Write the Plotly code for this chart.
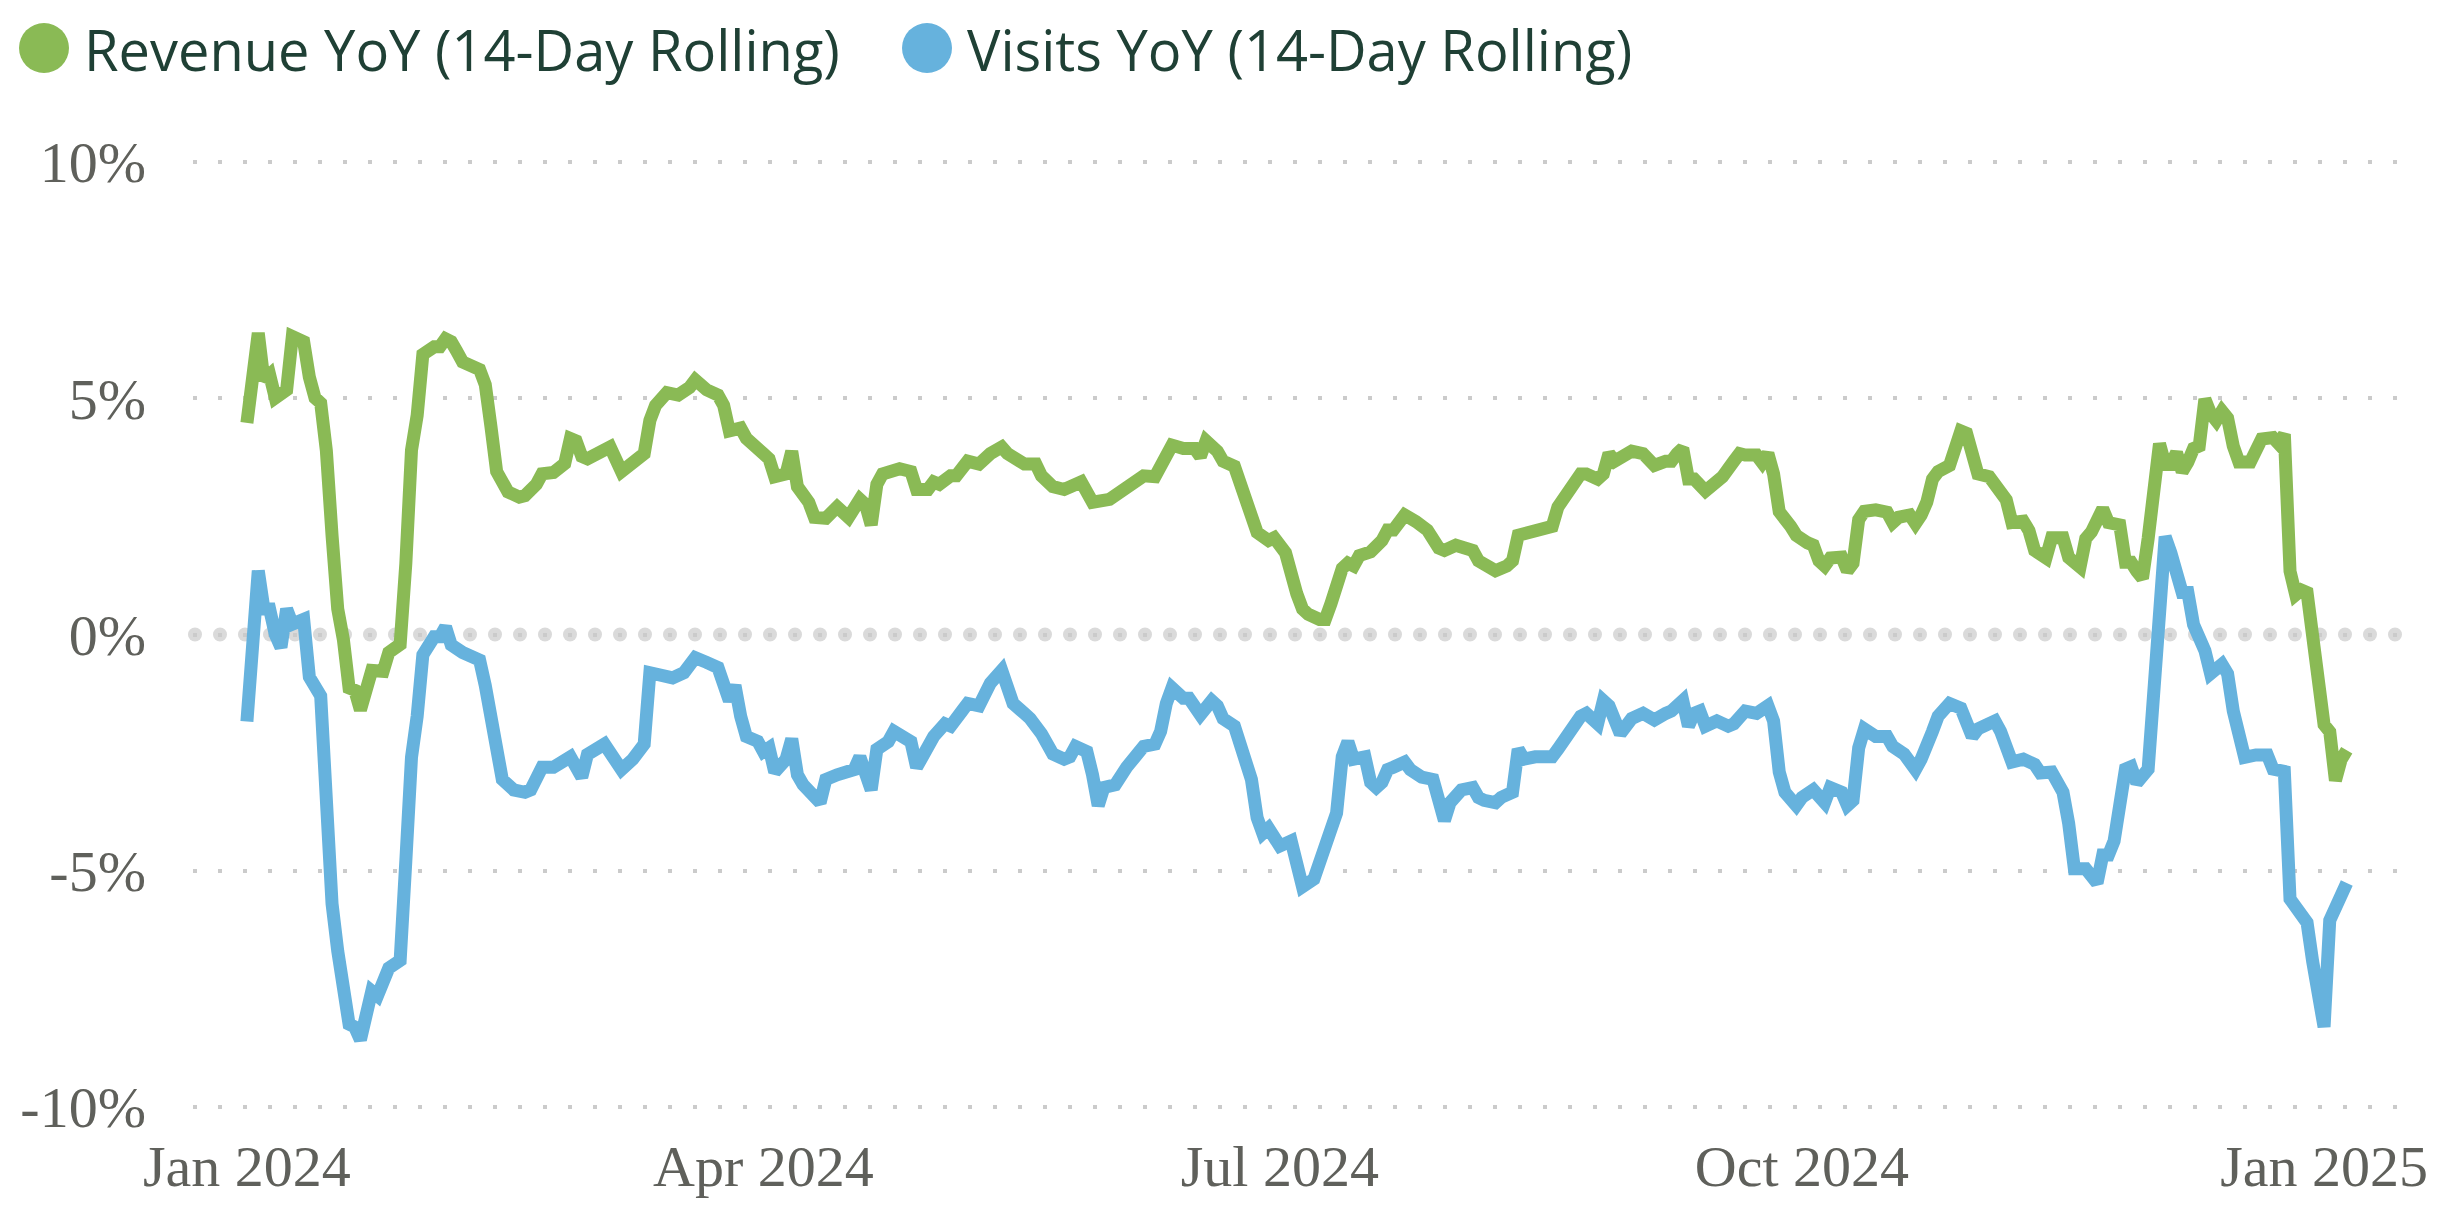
import plotly.graph_objects as go
import pandas as pd

START = "2024-01-01"

series_names = ["Revenue YoY (14-Day Rolling)", "Visits YoY (14-Day Rolling)"]

# day offsets from 2024-01-01 and values (%)
rev_day = [0, 2, 3, 4, 5, 7, 8, 10, 11, 12, 13, 14, 15, 16, 17, 18, 19, 20, 22, 24, 25, 27, 28, 29, 30, 31,
           33, 34, 35, 36, 37, 38, 41, 42, 43, 44, 46, 48, 49, 51, 52, 54, 56, 57, 58, 59, 60, 62, 64, 66,
           68, 70, 71, 72, 74, 76, 78, 79, 81, 83, 84, 85, 87, 88, 91, 92, 93, 95, 96, 97, 99, 100, 102,
           104, 106, 108, 109, 110, 111, 112, 115, 117, 118, 120, 121, 122, 124, 125, 127, 129, 131, 133,
           134, 137, 139, 140, 142, 144, 147, 148, 149, 152, 154, 156, 158, 160, 161, 163, 165, 167, 168,
           169, 171, 172, 174, 176, 177, 178, 180, 181, 183, 184, 185, 186, 187, 189, 190, 191, 192, 193,
           194, 195, 196, 198, 200, 201, 202, 204, 206, 207, 208, 210, 211, 213, 215, 216, 217, 219, 220,
           222, 223, 224, 226, 227, 230, 231, 233, 235, 236, 238, 239, 240, 241, 243, 244, 246, 248, 250,
           251, 252, 253, 254, 255, 257, 258, 260, 262, 263, 264, 266, 267, 268, 269, 270, 272, 273, 275,
           276, 277, 278, 279, 281, 282, 283, 284, 285, 287, 289, 290, 291, 293, 294, 295, 296, 297, 298,
           300, 301, 302, 303, 304, 305, 307, 308, 309, 310, 311, 313, 314, 315, 317, 318, 320, 321, 323,
           324, 325, 327, 328, 330, 331, 332, 333, 334, 335, 336, 337, 338, 339, 340, 341, 342, 343, 344,
           345, 346, 347, 348, 349, 350, 351, 353, 354, 355, 357, 358, 359, 360, 361, 362, 363, 364, 365,
           366, 367, 368, 369, 370]
rev_val = [4.48, 6.38, 5.39, 5.50, 5.01, 5.18, 6.31, 6.20, 5.45, 5.01, 4.90, 3.89, 2.10, 0.54, -0.11,
           -1.13, -1.18, -1.60, -0.76, -0.78, -0.38, -0.21, 1.50, 3.90, 4.64, 5.93, 6.09, 6.09, 6.26,
           6.20, 5.99, 5.77, 5.61, 5.29, 4.40, 3.45, 3.02, 2.91, 2.94, 3.18, 3.40, 3.43, 3.62, 4.15, 4.10,
           3.77, 3.72, 3.88, 3.97, 3.45, 3.67, 3.83, 4.53, 4.85, 5.12, 5.07, 5.23, 5.39, 5.18, 5.07, 4.85,
           4.31, 4.37, 4.15, 3.83, 3.72, 3.34, 3.40, 3.88, 3.13, 2.80, 2.48, 2.46, 2.70, 2.48, 2.86, 2.75,
           2.32, 3.18, 3.40, 3.51, 3.45, 3.07, 3.07, 3.23, 3.18, 3.36, 3.36, 3.67, 3.61, 3.83, 3.97, 3.83,
           3.61, 3.61, 3.36, 3.13, 3.07, 3.23, 3.07, 2.80, 2.86, 3.02, 3.18, 3.36, 3.34, 3.61, 4.01, 3.94,
           3.94, 3.77, 4.10, 3.88, 3.67, 3.56, 2.91, 2.59, 2.16, 1.99, 2.05, 1.73, 1.19, 0.86, 0.54, 0.43,
           0.32, 0.32, 0.65, 0.97, 1.40, 1.51, 1.45, 1.67, 1.75, 1.99, 2.21, 2.21, 2.53, 2.39, 2.29, 2.21,
           1.83, 1.78, 1.89, 1.78, 1.78, 1.56, 1.40, 1.35, 1.45, 1.56, 2.10, 2.16, 2.21, 2.29, 2.70, 3.07,
           3.40, 3.40, 3.29, 3.40, 3.83, 3.67, 3.83, 3.88, 3.83, 3.58, 3.67, 3.67, 3.83, 3.94, 3.29, 3.29,
           3.04, 3.13, 3.34, 3.67, 3.83, 3.80, 3.80, 3.64, 3.83, 3.40, 2.60, 2.29, 2.10, 1.94, 1.89, 1.56,
           1.45, 1.62, 1.64, 1.35, 1.51, 2.43, 2.61, 2.64, 2.59, 2.37, 2.48, 2.53, 2.35, 2.53, 2.80, 3.29,
           3.45, 3.58, 4.08, 4.31, 4.26, 3.72, 3.40, 3.34, 3.18, 3.05, 2.85, 2.37, 2.40, 2.20, 1.78, 1.62,
           2.05, 2.05, 1.63, 1.43, 2.03, 2.17, 2.66, 2.37, 2.32, 1.53, 1.53, 1.34, 1.19, 2.03, 3.30, 4.04,
           3.60, 3.60, 3.85, 3.45, 3.65, 3.94, 3.99, 4.98, 4.68, 4.53, 4.73, 4.58, 3.99, 3.65, 3.65, 3.99,
           4.14, 4.17, 4.04, 4.24, 1.34, 0.84, 0.94, 0.89, -0.14, -0.93, -1.91, -2.06, -3.09, -2.65, -2.45]

vis_day = [0, 2, 3, 4, 5, 6, 7, 8, 10, 11, 13, 14, 15, 16, 17, 18, 19, 20, 22, 23, 25, 27, 28, 29, 30, 31,
           33, 34, 35, 36, 38, 41, 42, 43, 44, 45, 47, 49, 50, 52, 54, 57, 59, 60, 63, 66, 68, 70, 71, 73,
           75, 77, 79, 81, 83, 85, 86, 87, 88, 90, 91, 92, 93, 95, 96, 97, 98, 101, 102, 104, 105, 107,
           108, 109, 110, 111, 113, 114, 116, 117, 118, 120, 121, 123, 124, 126, 127, 129, 131, 133, 134,
           135, 137, 138, 140, 142, 144, 145, 146, 148, 149, 150, 151, 153, 155, 156, 158, 160, 161, 162,
           163, 165, 166, 168, 170, 171, 172, 174, 176, 177, 178, 179, 180, 182, 184, 185, 186, 188, 189,
           190, 192, 193, 194, 195, 197, 198, 199, 200, 201, 202, 204, 205, 207, 209, 210, 211, 212, 214,
           216, 217, 218, 220, 221, 223, 224, 225, 227, 230, 231, 233, 235, 236, 238, 239, 240, 242, 243,
           244, 246, 248, 250, 251, 253, 254, 255, 256, 257, 259, 261, 262, 264, 266, 268, 269, 270, 271,
           273, 274, 276, 278, 279, 281, 282, 283, 284, 285, 287, 289, 290, 292, 294, 295, 297, 298, 300,
           302, 304, 305, 308, 309, 311, 313, 315, 316, 318, 319, 320, 321, 322, 324, 326, 327, 328, 329,
           330, 331, 332, 333, 335, 336, 337, 338, 339, 340, 341, 342, 343, 345, 346, 348, 349, 350, 351,
           352, 354, 356, 357, 359, 360, 362, 363, 364, 365, 366, 367, 368, 369, 370]
vis_val = [-1.84, 1.35, 0.54, 0.54, 0.00, -0.27, 0.54, 0.22, 0.32, -0.90, -1.30, -3.60, -5.70, -6.70,
           -7.60, -8.25, -8.31, -8.58, -7.55, -7.65, -7.06, -6.90, -4.80, -2.60, -1.73, -0.43, -0.05,
           -0.05, 0.16, -0.22, -0.38, -0.54, -1.08, -1.84, -2.59, -3.07, -3.29, -3.34, -3.29, -2.81,
           -2.81, -2.59, -3.02, -2.54, -2.32, -2.86, -2.64, -2.32, -0.81, -0.86, -0.92, -0.81, -0.49,
           -0.59, -0.70, -1.40, -1.08, -1.73, -2.16, -2.26, -2.48, -2.40, -2.91, -2.64, -2.21, -2.97,
           -3.18, -3.56, -3.07, -2.97, -2.91, -2.86, -2.59, -2.91, -3.29, -2.43, -2.27, -2.05, -2.21,
           -2.27, -2.81, -2.32, -2.16, -1.89, -1.94, -1.62, -1.46, -1.51, -1.03, -0.76, -1.19, -1.46,
           -1.67, -1.78, -2.10, -2.53, -2.64, -2.59, -2.37, -2.48, -2.97, -3.62, -3.24, -3.18, -2.81,
           -2.64, -2.37, -2.32, -2.05, -1.46, -1.13, -1.35, -1.35, -1.70, -1.40, -1.51, -1.78, -1.94,
           -2.64, -3.07, -3.88, -4.21, -4.10, -4.48, -4.37, -4.96, -5.34, -5.18, -4.85, -4.32, -3.78,
           -2.59, -2.27, -2.64, -2.59, -3.13, -3.24, -3.13, -2.86, -2.81, -2.70, -2.86, -3.02, -3.07,
           -3.62, -3.94, -3.56, -3.29, -3.24, -3.45, -3.51, -3.56, -3.45, -3.34, -2.43, -2.64, -2.59,
           -2.59, -2.43, -2.05, -1.73, -1.67, -1.89, -1.40, -1.51, -2.10, -1.89, -1.78, -1.67, -1.81,
           -1.67, -1.62, -1.40, -1.94, -1.67, -1.62, -1.94, -1.83, -1.94, -1.89, -1.62, -1.67, -1.51,
           -1.83, -2.91, -3.34, -3.62, -3.45, -3.29, -3.56, -3.24, -3.34, -3.62, -3.51, -2.40, -2.00,
           -2.16, -2.16, -2.37, -2.53, -2.86, -2.64, -2.05, -1.73, -1.46, -1.56, -2.16, -2.00, -1.83,
           -2.05, -2.70, -2.64, -2.75, -2.93, -2.91, -3.14, -3.34, -4.00, -4.96, -4.96, -5.26, -4.67,
           -4.67, -4.37, -3.73, -2.85, -2.80, -3.14, -2.85, -0.93, 1.04, 2.07, 1.73, 1.38, 0.89, 0.89,
           0.21, -0.34, -0.83, -0.63, -0.83, -1.62, -2.21, -2.60, -2.55, -2.55, -2.85, -2.90, -5.60,
           -5.90, -6.10, -6.93, -7.82, -8.31, -6.05, -5.75, -5.45, -5.26]

x_tickvals = ["2024-01-01", "2024-04-01", "2024-07-01", "2024-10-01", "2025-01-01"]
x_ticktext = ["Jan 2024", "Apr 2024", "Jul 2024", "Oct 2024", "Jan 2025"]
y_tickvals = [-10, -5, 0, 5, 10]
y_ticktext = ["-10%", "-5%", "0%", "5%", "10%"]

GREEN = "#8ABA55"
BLUE = "#66B2DD"
TICK_COLOR = "#5f605b"
LEGEND_COLOR = "#1f4035"


def to_dates(days):
    base = pd.Timestamp(START)
    return [(base + pd.Timedelta(days=d)).strftime("%Y-%m-%d") for d in days]


W, H = 2448, 1226
L, R, T, B = 193, 44, 148, 105
PW = W - L - R
PH = H - T - B


def px_to_paper_x(px):
    return (px - L) / PW


def px_to_paper_y(py):
    return (H - B - py) / PH


fig = go.Figure()
fig.add_trace(go.Scatter(x=to_dates(rev_day), y=rev_val, mode="lines", name=series_names[0],
                         line=dict(color=GREEN, width=13), showlegend=False))
fig.add_trace(go.Scatter(x=to_dates(vis_day), y=vis_val, mode="lines", name=series_names[1],
                         line=dict(color=BLUE, width=13), showlegend=False))

shapes = []
# dotted zero line (big round dots)
cx = 195
while cx <= 2400:
    shapes.append(dict(type="circle", xref="paper", yref="y", xsizemode="pixel", ysizemode="pixel",
                       xanchor=px_to_paper_x(cx), yanchor=0, x0=-7, x1=7, y0=-7, y1=7,
                       fillcolor="#dadada", line=dict(width=0), layer="below"))
    cx += 25

# legend markers
legend_items = [(44, 82, GREEN, series_names[0]), (927, 965, BLUE, series_names[1])]
annotations = []
for ccx, tx, col, name in legend_items:
    shapes.append(dict(type="circle", xref="paper", yref="paper", xsizemode="pixel", ysizemode="pixel",
                       xanchor=px_to_paper_x(ccx), yanchor=px_to_paper_y(48), x0=-25, x1=25, y0=-25, y1=25,
                       fillcolor=col, line=dict(width=0)))
    annotations.append(dict(text=name, xref="paper", yref="paper", x=px_to_paper_x(tx), y=px_to_paper_y(49),
                            xanchor="left", yanchor="middle", showarrow=False,
                            font=dict(family="Open Sans", size=56, color=LEGEND_COLOR)))

fig.update_layout(
    width=W, height=H, autosize=False,
    margin=dict(l=L, r=R, t=T, b=B, pad=0),
    paper_bgcolor="white", plot_bgcolor="white",
    showlegend=False,
    shapes=shapes, annotations=annotations,
    xaxis=dict(range=["2023-12-22 12:00", "2025-01-15 02:00"], tickvals=x_tickvals, ticktext=x_ticktext,
               showgrid=False, zeroline=False, showline=False, ticks="",
               tickfont=dict(family="Liberation Serif", size=58, color=TICK_COLOR),
               ticklabelstandoff=6),
    yaxis=dict(range=[-10.3, 10.3], tickvals=y_tickvals, ticktext=y_ticktext,
               showgrid=True, gridcolor="#cbcbcb", gridwidth=4, griddash="4px,21px",
               zeroline=False, showline=False, ticks="",
               tickfont=dict(family="Liberation Serif", size=58, color=TICK_COLOR),
               ticklabelstandoff=46),
)

fig.write_html("out.html")
